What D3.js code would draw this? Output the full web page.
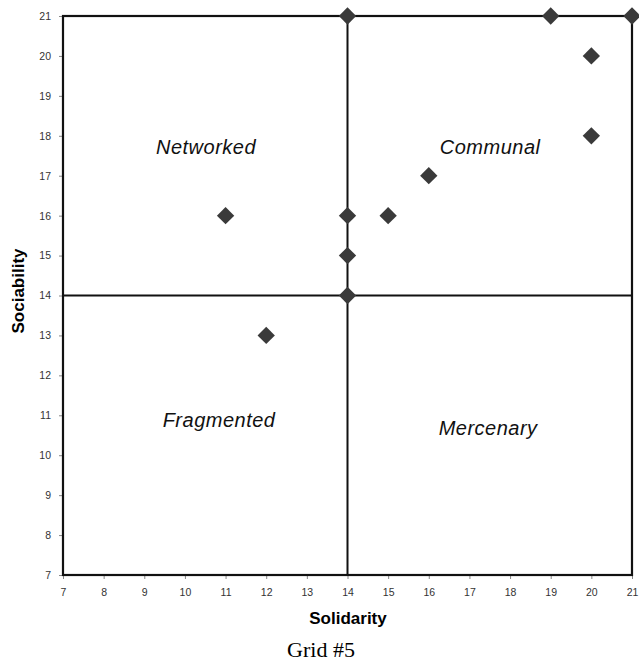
<!DOCTYPE html>
<html>
<head>
<meta charset="utf-8">
<script src="https://cdn.jsdelivr.net/npm/d3@7"></script>
<style>
  body { margin: 0; background: #fff; }
  text { font-family: Arial, "Liberation Sans", sans-serif; }
</style>
</head>
<body>
<script>
// data
var solidarity  = [11, 12, 14, 14, 14, 14, 15, 16, 19, 20, 20, 21];
var sociability = [16, 13, 21, 16, 15, 14, 16, 17, 21, 20, 18, 21];
var ticks = d3.range(7, 22);
var quadrants = ["Networked", "Communal", "Fragmented", "Mercenary"];
var quadX = [10.52, 17.51, 10.84, 17.46];
var quadY = [17.54, 17.54, 10.71, 10.51];
var splitX = 14, splitY = 14;

var outWidth = 639, outHeight = 665;
var margin = {top: 16, right: 7, bottom: 90, left: 63},
  width = outWidth - margin.left - margin.right,
  height = outHeight - margin.top - margin.bottom;

var xScale = d3.scaleLinear().domain([7, 21]).range([0, width]);
var yScale = d3.scaleLinear().domain([7, 21]).range([height, 0]);

var svg = d3.select("body").append("svg")
  .attr("width", outWidth)
  .attr("height", outHeight);
var g = svg.append("g")
  .attr("transform", "translate(" + margin.left + "," + margin.top + ")");

// axes
var xAxis = d3.axisBottom(xScale).tickValues(ticks).tickSize(4).tickPadding(10);
var yAxis = d3.axisLeft(yScale).tickValues(ticks).tickSize(4).tickPadding(8);

var gx = g.append("g").attr("transform", "translate(0," + height + ")").call(xAxis);
var gy = g.append("g").call(yAxis);
[gx, gy].forEach(function(a) {
  a.select(".domain").remove();
  a.selectAll(".tick line").attr("stroke", "#888");
  a.selectAll(".tick text").attr("fill", "#333").style("font-size", "10.5px");
});

// frame
g.append("rect")
  .attr("width", width).attr("height", height)
  .attr("fill", "none").attr("stroke", "#111").attr("stroke-width", 2.2);

// quadrant dividers
g.append("line")
  .attr("x1", xScale(splitX)).attr("x2", xScale(splitX))
  .attr("y1", 0).attr("y2", height)
  .attr("stroke", "#111").attr("stroke-width", 2);
g.append("line")
  .attr("x1", 0).attr("x2", width)
  .attr("y1", yScale(splitY)).attr("y2", yScale(splitY))
  .attr("stroke", "#111").attr("stroke-width", 2);

// quadrant labels
g.selectAll(".quad").data(quadrants).enter().append("text")
  .attr("class", "quad")
  .attr("x", function(d, i) { return xScale(quadX[i]); })
  .attr("y", function(d, i) { return yScale(quadY[i]); })
  .attr("text-anchor", "middle")
  .style("font-size", "20px").style("font-style", "italic")
  .style("letter-spacing", "0.5px")
  .attr("fill", "#111")
  .text(function(d) { return d; });

// diamonds
var diamond = d3.symbol().type(d3.symbolSquare).size(150);
g.selectAll(".pt").data(solidarity).enter().append("path")
  .attr("class", "pt")
  .attr("d", diamond)
  .attr("transform", function(d, i) {
    return "translate(" + xScale(d) + "," + yScale(sociability[i]) + ") rotate(45)";
  })
  .attr("fill", "#3a3a3a");

// axis titles
svg.append("text")
  .attr("x", 348).attr("y", 624)
  .attr("text-anchor", "middle")
  .style("font-size", "17px").style("font-weight", "bold")
  .text("Solidarity");
svg.append("text")
  .attr("transform", "translate(24,291) rotate(-90)")
  .attr("text-anchor", "middle")
  .style("font-size", "17px").style("font-weight", "bold")
  .text("Sociability");

// caption
svg.append("text")
  .attr("x", 321).attr("y", 657)
  .attr("text-anchor", "middle")
  .style("font-family", "'Liberation Serif', 'Times New Roman', serif")
  .style("font-size", "22px")
  .text("Grid #5");
</script>
</body>
</html>
